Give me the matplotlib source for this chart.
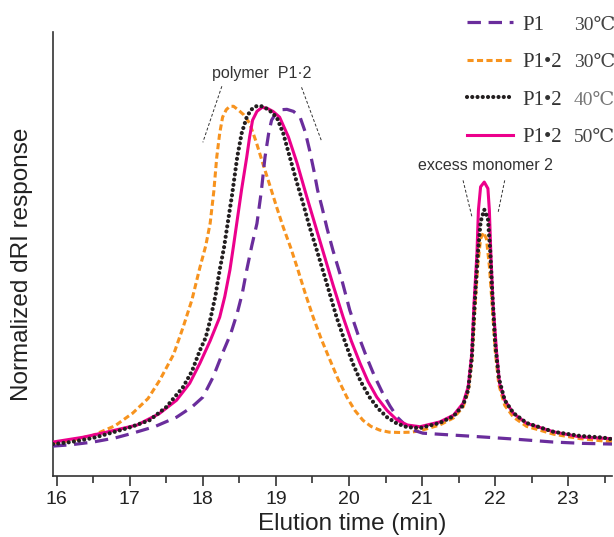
import matplotlib
matplotlib.use('Agg')
import matplotlib.pyplot as plt

# ---------------- data ----------------
p1_30_x = [15.95, 16.2, 16.5, 16.8, 17.04, 17.35, 17.64, 17.85, 18.0, 18.14, 18.27, 18.38, 18.47,
           18.54, 18.60, 18.67, 18.74, 18.80, 18.85, 18.90, 18.94, 19.0, 19.08, 19.15, 19.24, 19.33,
           19.40, 19.46, 19.52, 19.57, 19.63, 19.70, 19.78, 19.90, 20.01, 20.12, 20.24, 20.35, 20.46,
           20.56, 20.66, 20.77, 20.88, 21.01, 21.3, 21.6, 21.89, 22.3, 22.79, 23.2, 23.6]
p1_30_y = [0.0, 0.004, 0.012, 0.024, 0.038, 0.058, 0.085, 0.115, 0.144, 0.203, 0.274, 0.33, 0.391,
           0.45, 0.518, 0.59, 0.655, 0.75, 0.85, 0.92, 0.959, 0.98, 0.99, 0.991, 0.985, 0.968,
           0.925, 0.871, 0.81, 0.753, 0.703, 0.64, 0.576, 0.49, 0.40, 0.33, 0.262, 0.205, 0.156,
           0.118, 0.085, 0.062, 0.047, 0.038, 0.034, 0.030, 0.026, 0.020, 0.012, 0.008, 0.006]

p12_30_x = [15.95, 16.2, 16.5, 16.8, 17.04, 17.25, 17.41, 17.6, 17.73, 17.85, 17.96, 18.04, 18.10,
            18.15, 18.19, 18.23, 18.27, 18.32, 18.37, 18.42, 18.48, 18.56, 18.64, 18.73, 18.82,
            18.92, 19.01, 19.10, 19.20, 19.29, 19.40, 19.51, 19.62, 19.74, 19.85, 19.97, 20.08,
            20.19, 20.30, 20.42, 20.55, 20.70, 20.85, 20.97, 21.24, 21.43, 21.56, 21.63, 21.68,
            21.72, 21.76, 21.80, 21.84, 21.88, 21.92, 21.96, 22.0, 22.05, 22.13, 22.25, 22.43,
            22.8, 23.16, 23.48, 23.6]
p12_30_y = [0.009, 0.017, 0.032, 0.060, 0.097, 0.14, 0.194, 0.27, 0.35, 0.43, 0.526, 0.59, 0.656,
            0.75, 0.85, 0.92, 0.968, 0.99, 1.0, 1.0, 0.99, 0.975, 0.95, 0.895, 0.832,
            0.765, 0.703, 0.644, 0.585, 0.526, 0.45, 0.379, 0.315, 0.253, 0.197, 0.144, 0.105,
            0.076, 0.058, 0.047, 0.041, 0.040, 0.041, 0.045, 0.062, 0.083, 0.115, 0.16, 0.25,
            0.40, 0.53, 0.61, 0.629, 0.61, 0.53, 0.41, 0.28, 0.18, 0.12, 0.085, 0.058,
            0.035, 0.022, 0.015, 0.013]

p12_40_x = [15.95, 16.2, 16.5, 16.73, 17.0, 17.27, 17.5, 17.73, 17.85, 17.96, 18.04, 18.10, 18.17,
            18.23, 18.29, 18.34, 18.40, 18.47, 18.53, 18.60, 18.66, 18.73, 18.81, 18.90, 19.01,
            19.10, 19.19, 19.28, 19.37, 19.46, 19.56, 19.70, 19.83, 19.94, 20.05, 20.16, 20.28,
            20.40, 20.52, 20.65, 20.79, 20.97, 21.24, 21.43, 21.56, 21.63, 21.68, 21.72, 21.76,
            21.80, 21.85, 21.90, 21.93, 21.96, 22.0, 22.05, 22.13, 22.25, 22.43, 22.8, 23.16,
            23.48, 23.6]
p12_40_y = [0.006, 0.012, 0.024, 0.038, 0.055, 0.076, 0.115, 0.174, 0.22, 0.282, 0.32, 0.371, 0.44,
            0.518, 0.585, 0.656, 0.74, 0.85, 0.92, 0.968, 0.99, 1.0, 1.0, 0.99, 0.968,
            0.92, 0.85, 0.78, 0.715, 0.645, 0.576, 0.475, 0.379, 0.31, 0.244, 0.19, 0.144,
            0.11, 0.085, 0.067, 0.056, 0.053, 0.068, 0.088, 0.12, 0.165, 0.26, 0.42, 0.56,
            0.66, 0.696, 0.67, 0.58, 0.45, 0.30, 0.20, 0.135, 0.097, 0.068, 0.042, 0.030,
            0.025, 0.020]

p12_50_x = [15.95, 16.36, 16.7, 17.10, 17.4, 17.64, 17.82, 17.96, 18.10, 18.23, 18.30, 18.37, 18.42,
            18.47, 18.53, 18.60, 18.64, 18.68, 18.74, 18.81, 18.88, 18.96, 19.05, 19.17, 19.29,
            19.42, 19.51, 19.64, 19.78, 19.92, 20.03, 20.15, 20.26, 20.38, 20.52, 20.66, 20.80,
            20.97, 21.24, 21.43, 21.56, 21.63, 21.68, 21.71, 21.75, 21.77, 21.80, 21.85, 21.90,
            21.92, 21.94, 21.97, 22.02, 22.06, 22.13, 22.25, 22.43, 22.80, 23.16, 23.48, 23.6]
p12_50_y = [0.012, 0.026, 0.042, 0.062, 0.095, 0.135, 0.185, 0.244, 0.31, 0.379, 0.44, 0.518, 0.59,
            0.665, 0.755, 0.85, 0.91, 0.959, 0.985, 0.997, 0.994, 0.985, 0.968, 0.91, 0.832,
            0.735, 0.67, 0.576, 0.475, 0.379, 0.31, 0.244, 0.19, 0.144, 0.105, 0.076, 0.062,
            0.057, 0.071, 0.091, 0.126, 0.174, 0.273, 0.42, 0.567, 0.694, 0.763, 0.777, 0.758,
            0.694, 0.567, 0.42, 0.273, 0.184, 0.135, 0.096, 0.067, 0.042, 0.027, 0.023, 0.022]

labels = ["P1", "P1\u20222", "P1\u20222", "P1\u20222"]
temps = ["30\u2103", "30\u2103", "40\u2103", "50\u2103"]
colors = ["#6A2D9C", "#F7931E", "#231F20", "#EC008C"]

x_ticks = [16, 17, 18, 19, 20, 21, 22, 23]
x_minor = [16.5, 17.5, 18.5, 19.5, 20.5, 21.5, 22.5, 23.5]

# ---------------- figure ----------------
sans = ['Liberation Sans', 'DejaVu Sans']
serif = ['Liberation Serif', 'DejaVu Serif']

fig = plt.figure(figsize=(6.14, 5.37), dpi=100)
ax = fig.add_axes([0.086, 0.1136, 0.911, 0.8264])

l1, = ax.plot(p1_30_x, p1_30_y, color=colors[0], lw=2.3, ls=(0, (4.2, 2.4)),
              dash_capstyle='butt', zorder=3)
l2, = ax.plot(p12_30_x, p12_30_y, color=colors[1], lw=2.2, ls=(0, (2.0, 1.1)),
              dash_capstyle='butt', zorder=2)
l3, = ax.plot(p12_40_x, p12_40_y, color=colors[2], lw=3.0, ls=(0, (0.01, 1.25)),
              dash_capstyle='round', zorder=4)
l4, = ax.plot(p12_50_x, p12_50_y, color=colors[3], lw=2.2, ls='-', zorder=3)

ax.set_xlim(15.947, 23.6)
ax.set_ylim(-0.088, 1.218)

for s in ['top', 'right']:
    ax.spines[s].set_visible(False)
for s in ['left', 'bottom']:
    ax.spines[s].set_color('#333333')
    ax.spines[s].set_linewidth(1.2)

ax.set_yticks([])
ax.set_xticks(x_ticks)
ax.set_xticks(x_minor, minor=True)
ax.set_xticklabels([str(t) for t in x_ticks], fontfamily=sans, fontsize=14, color='#222222')
ax.tick_params(axis='x', which='major', direction='out', length=7, width=1.2, color='#333333', pad=4)
ax.tick_params(axis='x', which='minor', direction='out', length=5, width=1.2, color='#333333')

ax.set_xlabel("Elution time (min)", fontfamily=sans, fontsize=17.5, color='#222222')
ax.set_ylabel("Normalized dRI response", fontfamily=sans, fontsize=17.5, color='#222222')
ax.xaxis.set_label_coords(0.535, -0.083)
ax.yaxis.set_label_coords(-0.036, 0.478)

# annotations
ax.text(18.81, 1.097, "polymer  P1\u00b72", fontfamily=sans, fontsize=11.5, color='#333333',
        ha='center', va='center')
ax.plot([18.26, 18.0], [1.059, 0.894], color='#333333', lw=0.7, ls=(0, (3, 2)))
ax.plot([19.35, 19.62], [1.056, 0.90], color='#333333', lw=0.7, ls=(0, (3, 2)))

ax.text(21.87, 0.826, "excess monomer 2", fontfamily=sans, fontsize=11.5, color='#333333',
        ha='center', va='center')
ax.plot([21.56, 21.68], [0.782, 0.676], color='#333333', lw=0.7, ls=(0, (3, 2)))
ax.plot([22.13, 22.04], [0.782, 0.688], color='#333333', lw=0.7, ls=(0, (3, 2)))

# legend
leg = fig.legend([l1, l2, l3, l4], labels, loc='upper left',
                 bbox_to_anchor=(467 / 614, 1 - 15 / 537), frameon=False,
                 prop={'family': serif, 'size': 15}, handlelength=2.2,
                 handletextpad=0.45, labelspacing=0.86, borderpad=0, borderaxespad=0)
for t in leg.get_texts():
    t.set_color('#333333')

fig.canvas.draw()
inv = fig.transFigure.inverted()
temp_colors = ['#444444', '#444444', '#777777', '#444444']
for t, temp, tc in zip(leg.get_texts(), temps, temp_colors):
    bb = t.get_window_extent()
    (x0, y0), (x1, y1) = inv.transform([[bb.x0, bb.y0], [bb.x1, bb.y1]])
    fig.text(574 / 614, (y0 + y1) / 2, temp, fontfamily=serif, fontsize=14,
             color=tc, ha='left', va='center')

fig.savefig("out.png", dpi=100)
